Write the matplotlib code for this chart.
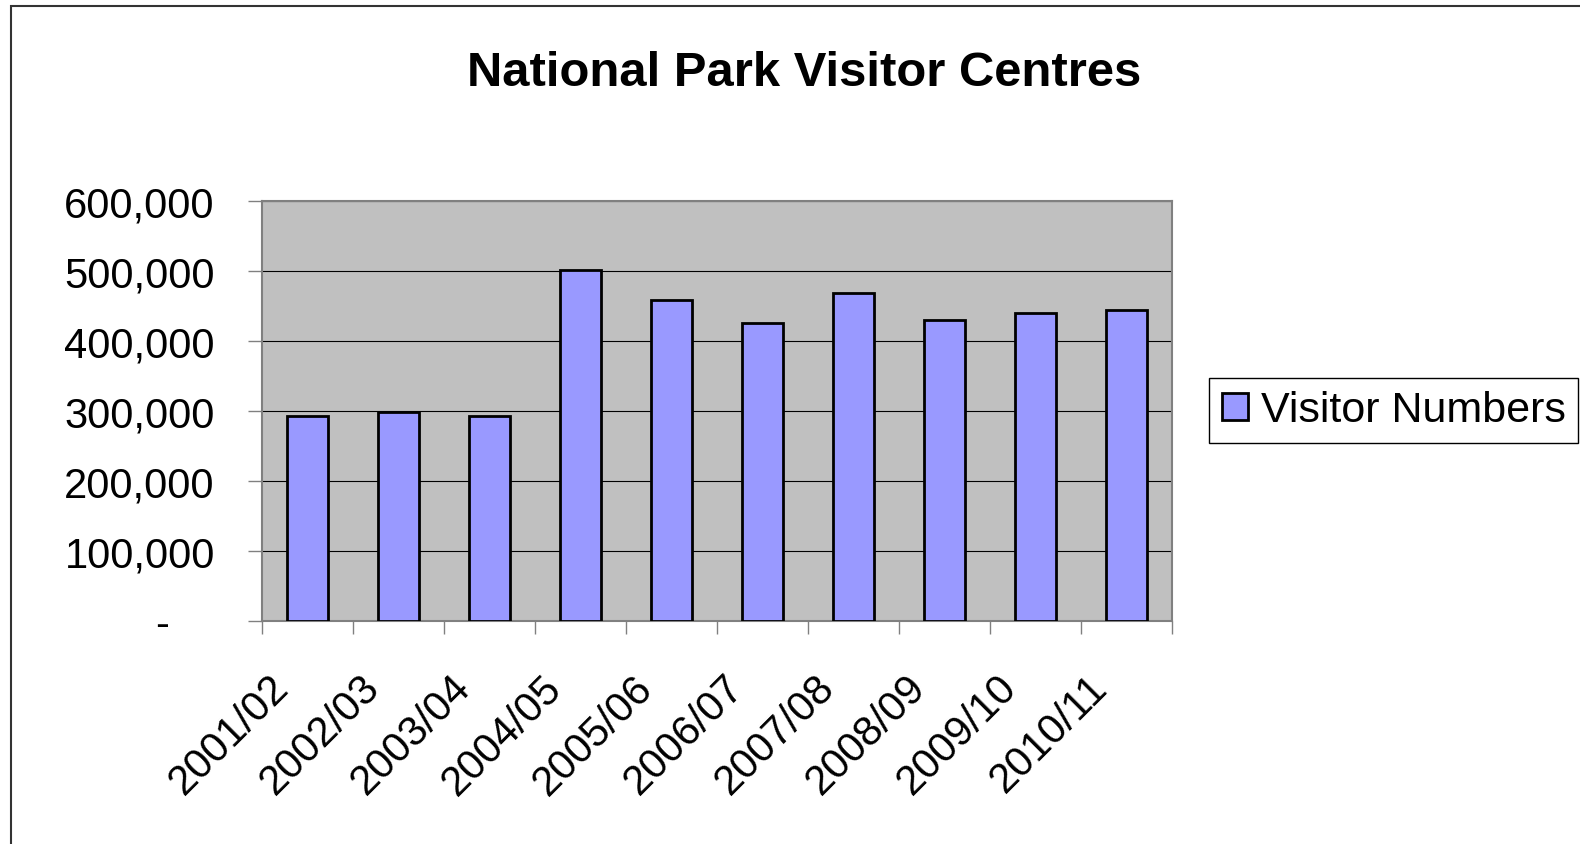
import numpy as np
import matplotlib.pyplot as plt
import matplotlib.transforms as mtransforms
from matplotlib.ticker import FuncFormatter
from matplotlib.patches import Rectangle

years = ['2001/02', '2002/03', '2003/04', '2004/05', '2005/06',
         '2006/07', '2007/08', '2008/09', '2009/10', '2010/11']
visitors = [293000, 298600, 293000, 500500, 458600,
            425300, 467700, 430000, 439600, 444300]
yticks = [0, 100000, 200000, 300000, 400000, 500000, 600000]

plt.rcParams['font.family'] = ['Liberation Sans', 'DejaVu Sans']

W, H = 1580, 845
fig = plt.figure(figsize=(W / 100, H / 100), dpi=100)

# outer chart border (runs off the right and bottom edges)
fig.patches.append(Rectangle((11 / W, -0.1), 1.2, 1 - 7 / H + 0.1,
                             transform=fig.transFigure, fill=False,
                             edgecolor='#333333', linewidth=1.5))

ax = fig.add_axes([262 / W, 1 - 621.7 / H, 910 / W, 420 / H])
ax.set_facecolor('#c0c0c0')

x = np.arange(len(years))
ax.bar(x, visitors, width=0.45, color='#9999ff', edgecolor='black',
       linewidth=2, label='Visitor Numbers', zorder=3)

ax.set_xlim(-0.5, len(years) - 0.5)
ax.set_ylim(0, 600000)
ax.set_yticks(yticks)
ax.yaxis.set_major_formatter(FuncFormatter(lambda v, p: '-' if v == 0 else f'{v:,.0f}'))
ax.grid(axis='y', color='black', linewidth=0.8, zorder=1)
ax.set_axisbelow(True)
ax.tick_params(axis='y', length=10, width=1, color='#808080', pad=24, labelsize=30)
ax.yaxis.get_major_ticks()[0].set_pad(57)

ax.set_xticks(x)
ax.set_xticklabels(years, rotation=45, ha='right', va='center',
                   rotation_mode='anchor', fontsize=30)
ax.set_xticks(np.arange(-0.5, len(years)), minor=True)
ax.tick_params(axis='x', which='major', length=0, pad=45)
ax.tick_params(axis='x', which='minor', length=9, width=1, color='#808080')
shift = mtransforms.ScaledTranslation(-0.25, 0.02, fig.dpi_scale_trans)
for lab in ax.get_xticklabels():
    lab.set_transform(lab.get_transform() + shift)

for s in ax.spines.values():
    s.set_color('#808080')
    s.set_linewidth(1.5)

fig.text(804.5 / W, 1 - 86 / H, 'National Park Visitor Centres', ha='center',
         va='baseline', fontsize=35.3, fontweight='bold')

leg = fig.legend(loc='center left', bbox_to_anchor=(1209 / W, 1 - 411.5 / H),
                 fontsize=31, frameon=True, fancybox=False, edgecolor='black',
                 framealpha=1, handlelength=0.6, handleheight=0.6,
                 handletextpad=0.3, borderpad=0.3, borderaxespad=0)
leg.get_frame().set_linewidth(1)

fig.savefig('out.png', dpi=100)
